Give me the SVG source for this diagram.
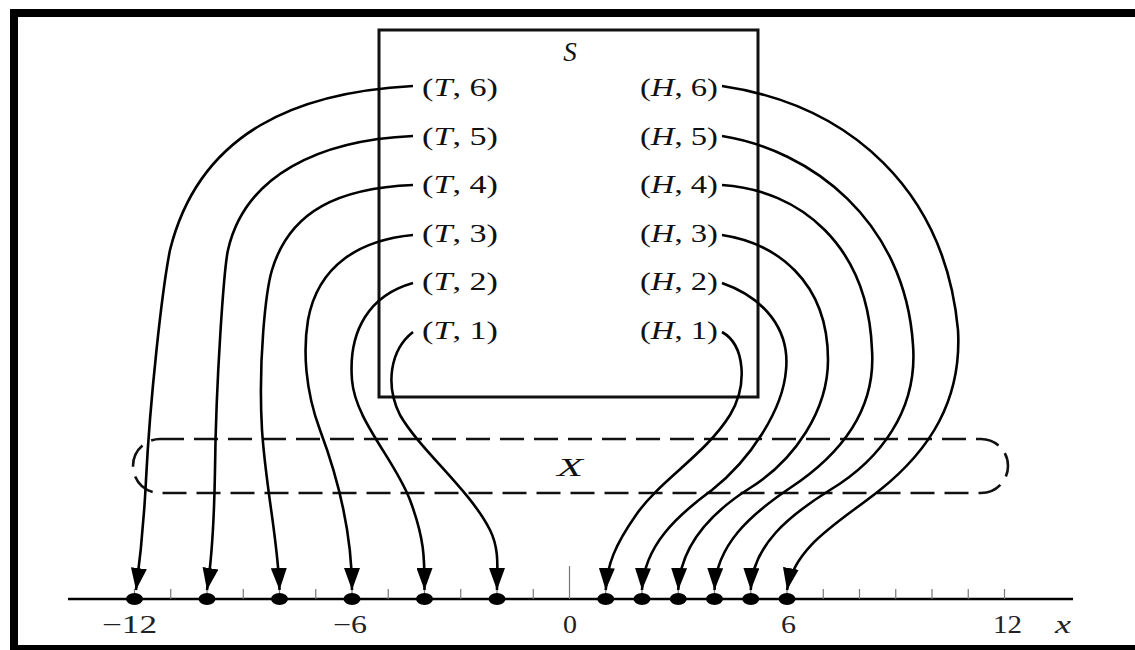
<svg xmlns="http://www.w3.org/2000/svg" width="1135" height="650" viewBox="0 0 1135 650">
  <style>
    .lbl { font-family: "Liberation Serif", "Times New Roman", serif; font-size: 26px; fill: #111; }
    .ax { font-family: "Liberation Serif", "Times New Roman", serif; font-size: 25px; fill: #222; }
    .it { font-style: italic; }
    .conn { fill: none; stroke: #000; stroke-width: 2.6; }
    .tick { stroke: #777; stroke-width: 1.2; }
    .dot { fill: #000; }
  </style>
  <defs>
    <marker id="arr" markerUnits="userSpaceOnUse" viewBox="0 0 22 16" refX="22" refY="8" markerWidth="22" markerHeight="16" orient="auto">
      <path d="M0,0 L22,8 L0,16 Z" fill="#000"/>
    </marker>
  </defs>
  <rect x="0" y="0" width="1135" height="650" fill="#fff"/>
  <!-- frame -->
  <g id="frame" fill="#000">
    <rect x="10" y="9" width="1125" height="8"/>
    <rect x="10" y="9" width="8" height="641"/>
    <rect x="10" y="645" width="1125" height="5"/>
  </g>

  <!-- set S -->
  <g id="S">
    <rect x="379" y="30" width="379" height="367" fill="none" stroke="#111" stroke-width="3"/>
    <text class="lbl it" x="570" y="61" text-anchor="middle" style="font-size:27px">S</text>
  </g>

  <!-- set X -->
  <g id="X">
    <rect x="133" y="439" width="875" height="54" rx="27" ry="27" fill="none" stroke="#111" stroke-width="2.6" stroke-dasharray="24 10"/>
    <text class="lbl it" x="557" y="476" textLength="26" lengthAdjust="spacingAndGlyphs" fill="#333">X</text>
  </g>

  <!-- outcomes -->
  <g id="T6"><text class="lbl" x="422" y="96" textLength="76" lengthAdjust="spacingAndGlyphs">(<tspan class="it">T</tspan>, 6)</text></g>
  <g id="T5"><text class="lbl" x="422" y="145" textLength="76" lengthAdjust="spacingAndGlyphs">(<tspan class="it">T</tspan>, 5)</text></g>
  <g id="T4"><text class="lbl" x="422" y="193" textLength="76" lengthAdjust="spacingAndGlyphs">(<tspan class="it">T</tspan>, 4)</text></g>
  <g id="T3"><text class="lbl" x="422" y="242" textLength="76" lengthAdjust="spacingAndGlyphs">(<tspan class="it">T</tspan>, 3)</text></g>
  <g id="T2"><text class="lbl" x="422" y="290" textLength="76" lengthAdjust="spacingAndGlyphs">(<tspan class="it">T</tspan>, 2)</text></g>
  <g id="T1"><text class="lbl" x="422" y="339" textLength="76" lengthAdjust="spacingAndGlyphs">(<tspan class="it">T</tspan>, 1)</text></g>
  <g id="H6"><text class="lbl" x="640" y="96" textLength="78" lengthAdjust="spacingAndGlyphs">(<tspan class="it">H</tspan>, 6)</text></g>
  <g id="H5"><text class="lbl" x="640" y="145" textLength="78" lengthAdjust="spacingAndGlyphs">(<tspan class="it">H</tspan>, 5)</text></g>
  <g id="H4"><text class="lbl" x="640" y="193" textLength="78" lengthAdjust="spacingAndGlyphs">(<tspan class="it">H</tspan>, 4)</text></g>
  <g id="H3"><text class="lbl" x="640" y="242" textLength="78" lengthAdjust="spacingAndGlyphs">(<tspan class="it">H</tspan>, 3)</text></g>
  <g id="H2"><text class="lbl" x="640" y="290" textLength="78" lengthAdjust="spacingAndGlyphs">(<tspan class="it">H</tspan>, 2)</text></g>
  <g id="H1"><text class="lbl" x="640" y="339" textLength="78" lengthAdjust="spacingAndGlyphs">(<tspan class="it">H</tspan>, 1)</text></g>

  <!-- number line -->
  <g id="axis">
    <line x1="68" y1="599" x2="1073" y2="599" stroke="#000" stroke-width="2.6"/>
    <g class="tick">
      <line x1="134.5" y1="589" x2="134.5" y2="599"/>
      <line x1="170.75" y1="589" x2="170.75" y2="599"/>
      <line x1="207" y1="589" x2="207" y2="599"/>
      <line x1="243.25" y1="589" x2="243.25" y2="599"/>
      <line x1="279.5" y1="589" x2="279.5" y2="599"/>
      <line x1="315.75" y1="589" x2="315.75" y2="599"/>
      <line x1="352" y1="589" x2="352" y2="599"/>
      <line x1="388.25" y1="589" x2="388.25" y2="599"/>
      <line x1="424.5" y1="589" x2="424.5" y2="599"/>
      <line x1="460.75" y1="589" x2="460.75" y2="599"/>
      <line x1="497" y1="589" x2="497" y2="599"/>
      <line x1="533.25" y1="589" x2="533.25" y2="599"/>
      <line x1="569.5" y1="566" x2="569.5" y2="599"/>
      <line x1="605.75" y1="589" x2="605.75" y2="599"/>
      <line x1="642" y1="589" x2="642" y2="599"/>
      <line x1="678.25" y1="589" x2="678.25" y2="599"/>
      <line x1="714.5" y1="589" x2="714.5" y2="599"/>
      <line x1="750.75" y1="589" x2="750.75" y2="599"/>
      <line x1="787" y1="589" x2="787" y2="599"/>
      <line x1="823.25" y1="589" x2="823.25" y2="599"/>
      <line x1="859.5" y1="589" x2="859.5" y2="599"/>
      <line x1="895.75" y1="589" x2="895.75" y2="599"/>
      <line x1="932" y1="589" x2="932" y2="599"/>
      <line x1="968.25" y1="589" x2="968.25" y2="599"/>
      <line x1="1004.5" y1="589" x2="1004.5" y2="599"/>
    </g>
    <text class="ax" x="102" y="633" textLength="55" lengthAdjust="spacingAndGlyphs">−12</text>
    <text class="ax" x="333" y="633" textLength="34" lengthAdjust="spacingAndGlyphs">−6</text>
    <text class="ax" x="563" y="633" textLength="14" lengthAdjust="spacingAndGlyphs">0</text>
    <text class="ax" x="781" y="633" textLength="15" lengthAdjust="spacingAndGlyphs">6</text>
    <text class="ax" x="993" y="633" textLength="29" lengthAdjust="spacingAndGlyphs">12</text>
    <text class="ax it" x="1055" y="633" textLength="16" lengthAdjust="spacingAndGlyphs">x</text>
  </g>

  <!-- images on the line -->
  <g id="points" class="dot">
    <ellipse cx="134.5" cy="599" rx="8.5" ry="6"/>
    <ellipse cx="207" cy="599" rx="8.5" ry="6"/>
    <ellipse cx="279.5" cy="599" rx="8.5" ry="6"/>
    <ellipse cx="352" cy="599" rx="8.5" ry="6"/>
    <ellipse cx="424.5" cy="599" rx="8.5" ry="6"/>
    <ellipse cx="497" cy="599" rx="8.5" ry="6"/>
    <ellipse cx="605.75" cy="599" rx="8.5" ry="6"/>
    <ellipse cx="642" cy="599" rx="8.5" ry="6"/>
    <ellipse cx="678.25" cy="599" rx="8.5" ry="6"/>
    <ellipse cx="714.5" cy="599" rx="8.5" ry="6"/>
    <ellipse cx="750.75" cy="599" rx="8.5" ry="6"/>
    <ellipse cx="787" cy="599" rx="8.5" ry="6"/>
  </g>

  <!-- connectors -->
  <g id="connectors" class="conn" marker-end="url(#arr)">
    <path d="M413,86 C300,92 200,130 170,250 C162,290 150,400 146,480 C144,520 140,560 136,590"/>
    <path d="M413,136 C320,140 245,175 228,250 C224,268 216,380 215,470 C214,530 211,565 207,590"/>
    <path d="M413,185 C340,188 290,210 272,270 C266,290 258,360 262,430 C266,490 278,540 279.5,590"/>
    <path d="M413,235 C360,240 318,265 308,320 C303,350 305,390 320,430 C335,470 352,530 352,590"/>
    <path d="M413,283 C370,295 348,330 352,380 C355,420 395,460 410,500 C425,540 424.5,560 424.5,590"/>
    <path d="M413,332 C390,350 385,385 400,415 C420,450 470,490 490,530 C500,550 497,570 497,590"/>
    <path d="M722,86 C850,105 945,190 958,330 C962,400 930,450 880,490 C840,522 795,545 787,590"/>
    <path d="M722,136 C810,150 905,220 913,345 C918,410 880,460 830,490 C790,515 752,545 750.75,590"/>
    <path d="M722,185 C800,190 868,245 872,350 C876,410 840,455 790,488 C750,515 716,545 714.5,590"/>
    <path d="M722,235 C775,243 828,280 828,360 C828,410 795,460 750,488 C712,512 680,545 678.25,590"/>
    <path d="M722,283 C765,298 790,330 786,370 C783,410 750,460 712,490 C678,515 644,545 642,590"/>
    <path d="M722,332 C745,345 748,385 730,415 C705,455 660,480 636,515 C615,545 607,565 605.75,590"/>
  </g>
</svg>
